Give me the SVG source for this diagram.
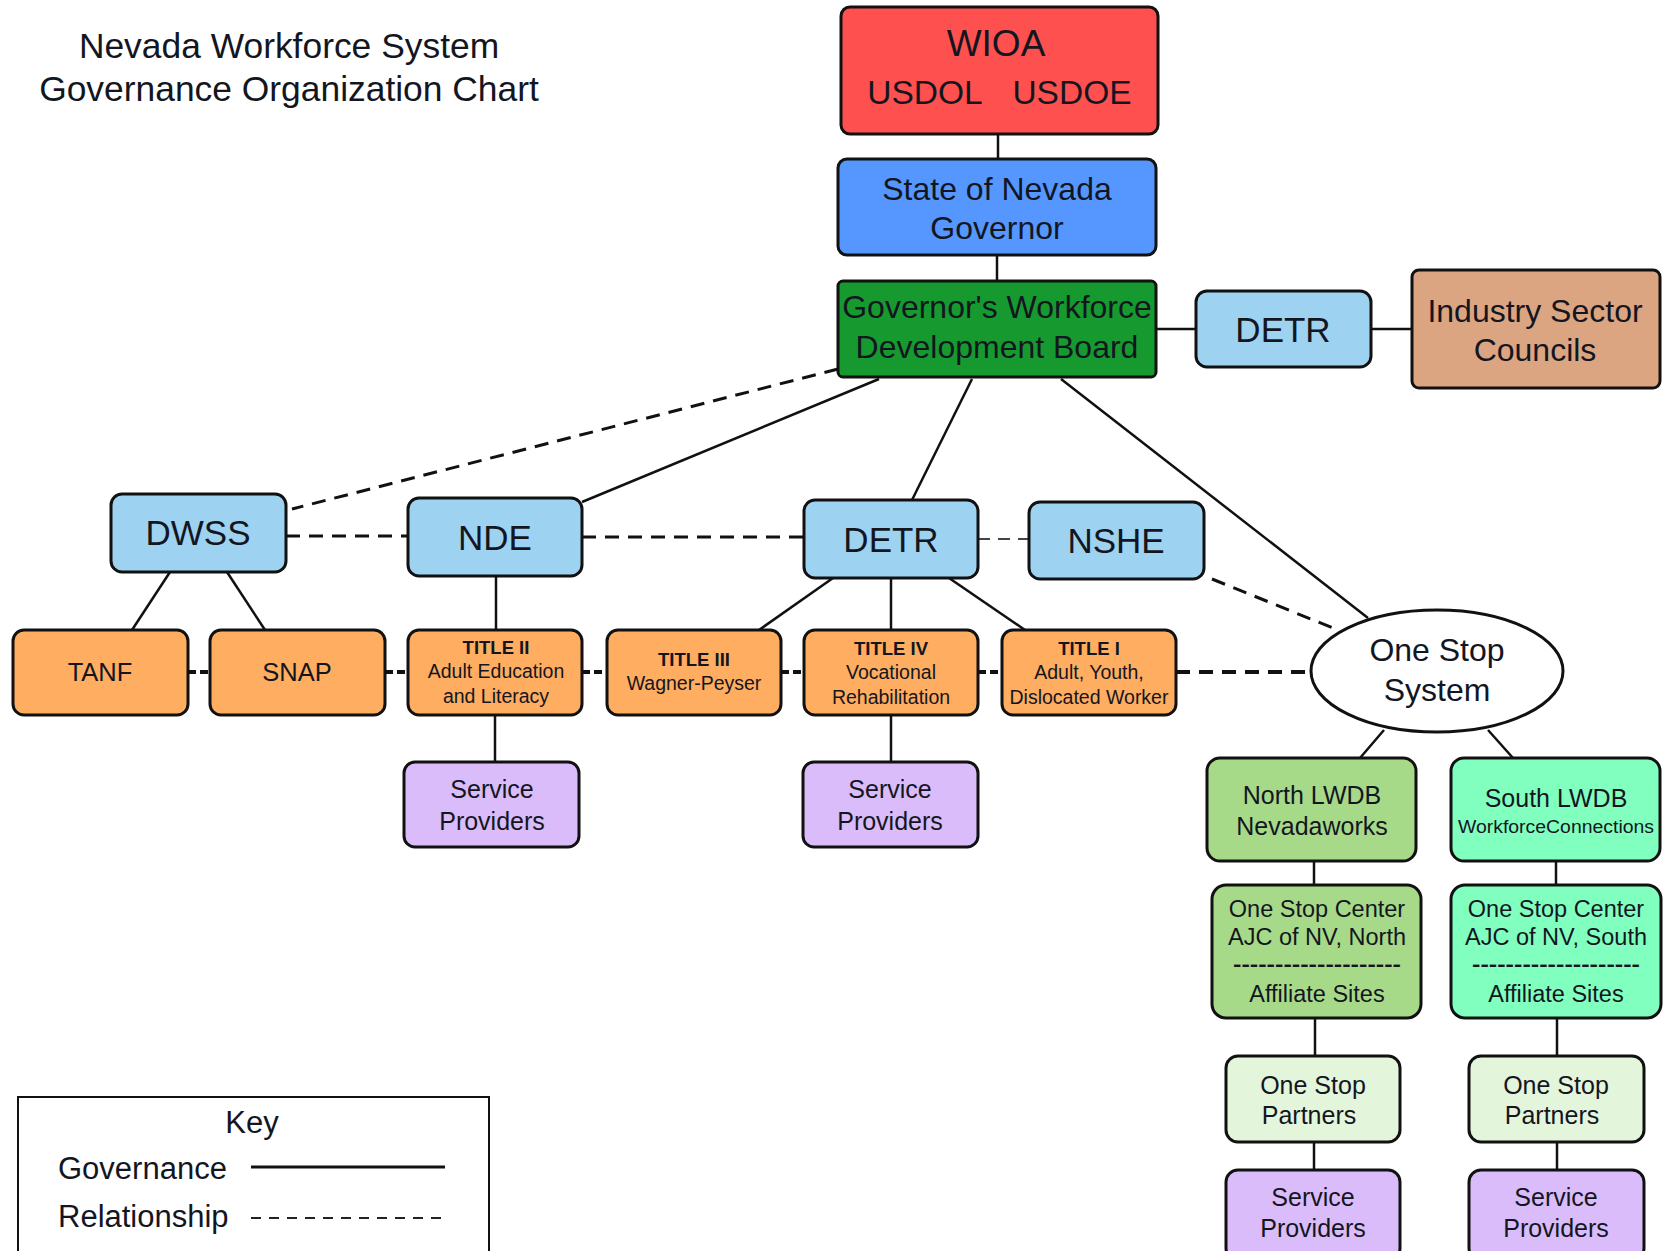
<svg xmlns="http://www.w3.org/2000/svg" width="1663" height="1251" viewBox="0 0 1663 1251">
<style>
text{font-family:"Liberation Sans",Arial,sans-serif;fill:#14161f;text-anchor:middle;dominant-baseline:central}
.box{stroke:#111;stroke-width:3}
.gov{stroke:#111;stroke-width:2.5;fill:none}
.rel{stroke:#111;stroke-width:3;fill:none;stroke-dasharray:14 9}
.rel2{stroke:#111;stroke-width:4;fill:none;stroke-dasharray:14 9}
.relthin{stroke:#444;stroke-width:2;fill:none;stroke-dasharray:12 8}
.t35{font-size:35px}.t32{font-size:32px}.t25{font-size:25px}.t23{font-size:23px}.t19{font-size:19.5px}
.b18{font-size:18.5px;font-weight:bold}
.red{fill:#FF5050}.blue{fill:#5597FF}.green{fill:#169A30}.lblue{fill:#9DD2F1}.tan{fill:#DBA581}
.orange{fill:#FFAD60}.purple{fill:#DABCFA}.ngreen{fill:#A6DA88}.mint{fill:#80FFBF}.pale{fill:#E3F5DA}
</style>
<rect width="1663" height="1251" fill="#fff"/>
<g id="title">
<text x="289" y="46" style="font-size:35.4px">Nevada Workforce System</text>
<text x="289" y="89" style="font-size:35.4px">Governance Organization Chart</text>
</g>
<g id="connectors">
<line class="gov" x1="998" y1="134" x2="998" y2="159"/>
<line class="gov" x1="997" y1="255" x2="997" y2="281"/>
<line class="gov" x1="1156" y1="329" x2="1196" y2="329"/>
<line class="gov" x1="1371" y1="329" x2="1412" y2="329"/>
<line class="gov" x1="879" y1="379" x2="582" y2="502"/>
<line class="gov" x1="972" y1="379" x2="912" y2="500"/>
<line class="gov" x1="1061" y1="379" x2="1368" y2="618"/>
<line class="rel" x1="838" y1="369" x2="292" y2="509"/>
<line class="rel" x1="286" y1="536" x2="408" y2="536"/>
<line class="rel" x1="582" y1="537" x2="804" y2="537"/>
<line class="relthin" x1="978" y1="539" x2="1029" y2="539"/>
<line class="rel" x1="1212" y1="579" x2="1338" y2="630"/>
<line class="gov" x1="170" y1="572" x2="132" y2="630"/>
<line class="gov" x1="227" y1="572" x2="265" y2="630"/>
<line class="gov" x1="496" y1="576" x2="496" y2="630"/>
<line class="gov" x1="833" y1="578" x2="759" y2="630"/>
<line class="gov" x1="891" y1="578" x2="891" y2="630"/>
<line class="gov" x1="949" y1="578" x2="1025" y2="630"/>
<line class="rel2" x1="188" y1="672" x2="210" y2="672" style="stroke-dasharray:8 4"/>
<line class="rel2" x1="385" y1="672" x2="408" y2="672" style="stroke-dasharray:8 4"/>
<line class="rel2" x1="582" y1="672" x2="607" y2="672" style="stroke-dasharray:8 4"/>
<line class="rel2" x1="781" y1="672" x2="804" y2="672" style="stroke-dasharray:8 4"/>
<line class="rel2" x1="978" y1="672" x2="1002" y2="672" style="stroke-dasharray:8 4"/>
<line class="rel2" x1="1176" y1="672" x2="1311" y2="672"/>
<line class="gov" x1="495" y1="715" x2="495" y2="762"/>
<line class="gov" x1="891" y1="715" x2="891" y2="762"/>
<line class="gov" x1="1384" y1="730" x2="1360" y2="758"/>
<line class="gov" x1="1488" y1="730" x2="1513" y2="758"/>
<line class="gov" x1="1314" y1="861" x2="1314" y2="885"/>
<line class="gov" x1="1556" y1="861" x2="1556" y2="885"/>
<line class="gov" x1="1315" y1="1018" x2="1315" y2="1056"/>
<line class="gov" x1="1557" y1="1018" x2="1557" y2="1056"/>
<line class="gov" x1="1314" y1="1142" x2="1314" y2="1170"/>
<line class="gov" x1="1557" y1="1142" x2="1557" y2="1170"/>
</g>
<g id="wioa"><rect class="box red" x="841" y="7" width="317" height="127" rx="9"/>
<text x="996" y="43" style="font-size:37px">WIOA</text><text x="925" y="92" style="font-size:33.5px">USDOL</text><text x="1072" y="92" style="font-size:33.5px">USDOE</text></g>
<g id="governor"><rect class="box blue" x="838" y="159" width="318" height="96" rx="9"/>
<text class="t32" x="997" y="189">State of Nevada</text><text class="t32" x="997" y="228">Governor</text></g>
<g id="gwdb"><rect class="box green" x="838" y="281" width="318" height="96" rx="5"/>
<text class="t32" x="997" y="307">Governor's Workforce</text><text class="t32" x="997" y="347">Development Board</text></g>
<g id="detr-top"><rect class="box lblue" x="1196" y="291" width="175" height="76" rx="11"/>
<text class="t35" x="1283" y="329">DETR</text></g>
<g id="isc"><rect class="box tan" x="1412" y="270" width="248" height="118" rx="7"/>
<text class="t32" x="1535" y="311">Industry Sector</text><text class="t32" x="1535" y="350">Councils</text></g>
<g id="dwss"><rect class="box lblue" x="111" y="494" width="175" height="78" rx="11"/>
<text class="t35" x="198" y="532">DWSS</text></g>
<g id="nde"><rect class="box lblue" x="408" y="498" width="174" height="78" rx="11"/>
<text class="t35" x="495" y="537">NDE</text></g>
<g id="detr"><rect class="box lblue" x="804" y="500" width="174" height="78" rx="11"/>
<text class="t35" x="891" y="539">DETR</text></g>
<g id="nshe"><rect class="box lblue" x="1029" y="502" width="175" height="77" rx="11"/>
<text class="t35" x="1116" y="540">NSHE</text></g>
<g id="tanf"><rect class="box orange" x="13" y="630" width="175" height="85" rx="11"/>
<text x="100" y="672" style="font-size:25.5px">TANF</text></g>
<g id="snap"><rect class="box orange" x="210" y="630" width="175" height="85" rx="11"/>
<text x="297" y="672" style="font-size:25.5px">SNAP</text></g>
<g id="title2"><rect class="box orange" x="408" y="630" width="174" height="85" rx="11"/>
<text class="b18" x="496" y="647">TITLE II</text><text class="t19" x="496" y="671">Adult Education</text><text class="t19" x="496" y="696">and Literacy</text></g>
<g id="title3"><rect class="box orange" x="607" y="630" width="174" height="85" rx="11"/>
<text class="b18" x="694" y="659">TITLE III</text><text class="t19" x="694" y="683">Wagner-Peyser</text></g>
<g id="title4"><rect class="box orange" x="804" y="630" width="174" height="85" rx="11"/>
<text class="b18" x="891" y="648">TITLE IV</text><text class="t19" x="891" y="672">Vocational</text><text class="t19" x="891" y="697">Rehabilitation</text></g>
<g id="title1"><rect class="box orange" x="1002" y="630" width="174" height="85" rx="11"/>
<text class="b18" x="1089" y="648">TITLE I</text><text class="t19" x="1089" y="672">Adult, Youth,</text><text class="t19" x="1089" y="697">Dislocated Worker</text></g>
<g id="onestop"><ellipse cx="1437" cy="671" rx="126" ry="61" fill="#fff" stroke="#111" stroke-width="3"/>
<text class="t32" x="1437" y="650">One Stop</text><text class="t32" x="1437" y="690">System</text></g>
<g id="sp-nde"><rect class="box purple" x="404" y="762" width="175" height="85" rx="11"/>
<text class="t25" x="492" y="789">Service</text><text class="t25" x="492" y="821">Providers</text></g>
<g id="sp-detr"><rect class="box purple" x="803" y="762" width="175" height="85" rx="11"/>
<text class="t25" x="890" y="789">Service</text><text class="t25" x="890" y="821">Providers</text></g>
<g id="north-lwdb"><rect class="box ngreen" x="1207" y="758" width="209" height="103" rx="13"/>
<text class="t25" x="1312" y="795">North LWDB</text><text class="t25" x="1312" y="826">Nevadaworks</text></g>
<g id="south-lwdb"><rect class="box mint" x="1451" y="758" width="209" height="103" rx="13"/>
<text class="t25" x="1556" y="798">South LWDB</text><text x="1556" y="827" style="font-size:18px" textLength="196" lengthAdjust="spacingAndGlyphs">WorkforceConnections</text></g>
<g id="osc-north"><rect class="box ngreen" x="1212" y="885" width="209" height="133" rx="14"/>
<text x="1317" y="909" style="font-size:23.5px">One Stop Center</text><text x="1317" y="937" style="font-size:23.5px">AJC of NV, North</text><text x="1317" y="964" style="font-size:20px;font-weight:bold" textLength="168" lengthAdjust="spacingAndGlyphs">--------------------</text><text x="1317" y="994" style="font-size:23.5px">Affiliate Sites</text></g>
<g id="osc-south"><rect class="box mint" x="1451" y="885" width="210" height="133" rx="14"/>
<text x="1556" y="909" style="font-size:23.5px">One Stop Center</text><text x="1556" y="937" style="font-size:23.5px">AJC of NV, South</text><text x="1556" y="964" style="font-size:20px;font-weight:bold" textLength="168" lengthAdjust="spacingAndGlyphs">--------------------</text><text x="1556" y="994" style="font-size:23.5px">Affiliate Sites</text></g>
<g id="osp-north"><rect class="box pale" x="1226" y="1056" width="174" height="86" rx="12"/>
<text class="t25" x="1313" y="1085">One Stop</text><text class="t25" x="1309" y="1115">Partners</text></g>
<g id="osp-south"><rect class="box pale" x="1469" y="1056" width="175" height="86" rx="12"/>
<text class="t25" x="1556" y="1085">One Stop</text><text class="t25" x="1552" y="1115">Partners</text></g>
<g id="sp-north"><rect class="box purple" x="1226" y="1170" width="174" height="90" rx="12"/>
<text class="t25" x="1313" y="1197">Service</text><text class="t25" x="1313" y="1228">Providers</text></g>
<g id="sp-south"><rect class="box purple" x="1469" y="1170" width="175" height="90" rx="12"/>
<text class="t25" x="1556" y="1197">Service</text><text class="t25" x="1556" y="1228">Providers</text></g>
<g id="key"><rect x="18" y="1097" width="471" height="165" fill="#fff" stroke="#111" stroke-width="2"/>
<text x="252" y="1122" style="font-size:31px">Key</text>
<text x="58" y="1168" style="font-size:31px;text-anchor:start">Governance</text>
<text x="58" y="1216" style="font-size:31px;text-anchor:start">Relationship</text>
<line x1="251" y1="1167" x2="445" y2="1167" stroke="#111" stroke-width="3"/>
<line x1="251" y1="1218" x2="445" y2="1218" stroke="#222" stroke-width="2" stroke-dasharray="10 8"/>
</g>
</svg>
